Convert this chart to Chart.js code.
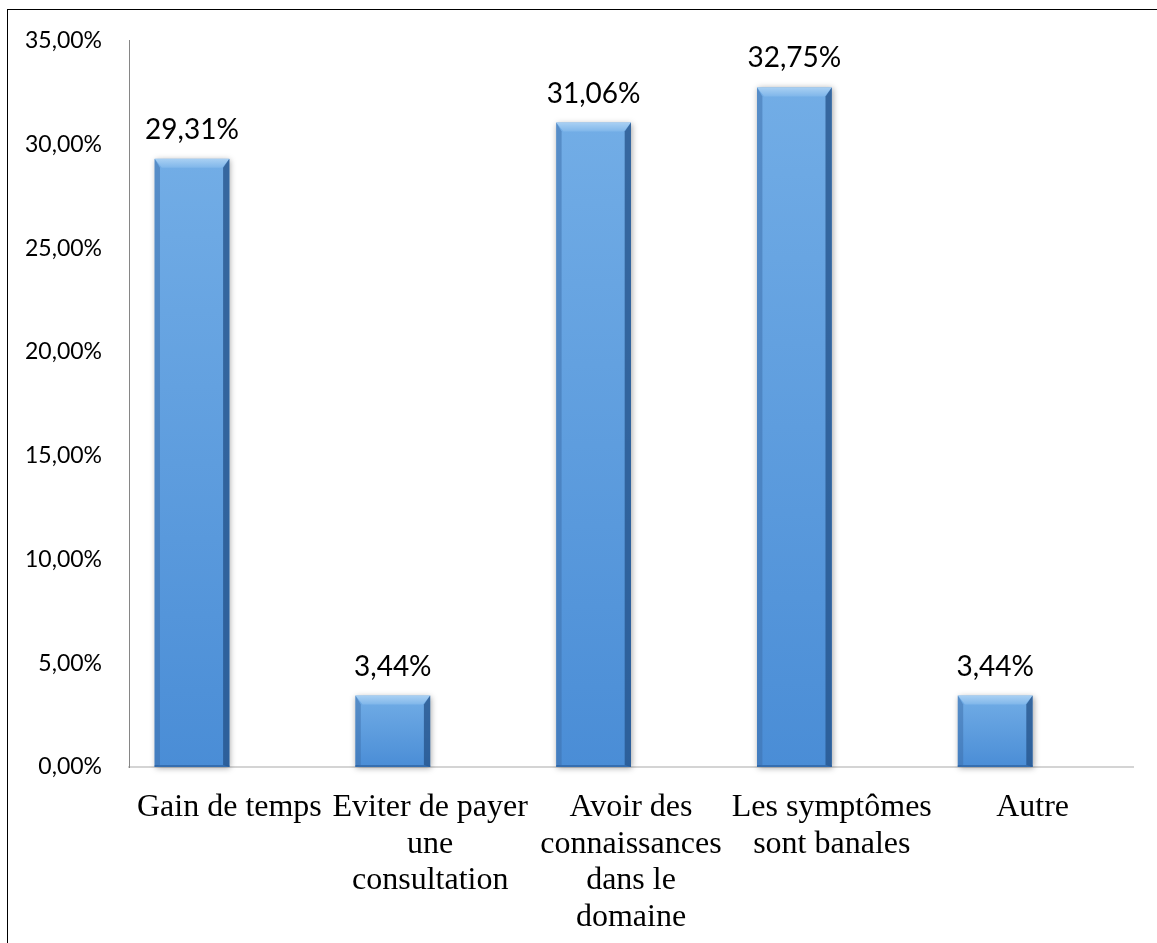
<!DOCTYPE html>
<html>
<head>
<meta charset="utf-8">
<script src="https://cdn.jsdelivr.net/npm/chart.js@4.4.1/dist/chart.umd.min.js"></script>
<style>
    html, body { margin: 0; padding: 0; background: #fff; overflow: hidden; }
    #frame {
        position: absolute; left: 7px; top: 9px;
        width: 1300px; height: 1100px;
        border-top: 1.5px solid #000; border-left: 1.5px solid #000;
    }
    #wrap { position: absolute; left: 0; top: 0; width: 1157px; height: 943px; }
</style>
</head>
<body>
<div id="frame"></div>
<div id="wrap"><canvas id="motifChart"></canvas></div>
<script>
// Motifs de l'automédication
const categories = [
    'Gain de temps',
    ['Eviter de payer', 'une', 'consultation'],
    ['Avoir des', 'connaissances', 'dans le', 'domaine'],
    ['Les symptômes', 'sont banales'],
    'Autre'
];
const percentages = [29.31, 3.44, 31.06, 32.75, 3.44];
// empty series that keeps the bars on the left half of each category
const spacer = [null, null, null, null, null];
const yTicks = [0, 5, 10, 15, 20, 25, 30, 35];

function frPercent(v) {
    return v.toFixed(2).replace('.', ',') + '%';
}

// bevelled blue bars, drawn over the default rectangles
const bevelBars = {
    id: 'bevelBars',
    afterDatasetsDraw(chart) {
        const ctx = chart.ctx;
        chart.getDatasetMeta(0).data.forEach(bar => {
            const left = bar.x - bar.width / 2;
            const right = bar.x + bar.width / 2;
            const top = bar.y;
            const bottom = bar.base;
            const w = right - left;
            const h = bottom - top;
            const b = Math.min(9, h / 3);

            ctx.save();
            // soft shadow
            ctx.shadowColor = 'rgba(0,0,0,0.35)';
            ctx.shadowBlur = 6;
            ctx.shadowOffsetX = 1;
            ctx.shadowOffsetY = 1;
            const body = ctx.createLinearGradient(0, top, 0, bottom);
            body.addColorStop(0, '#72ade6');
            body.addColorStop(1, '#4a8dd6');
            ctx.fillStyle = body;
            ctx.fillRect(left, top, w, h);
            ctx.restore();

            ctx.save();
            // top bevel
            const cap = ctx.createLinearGradient(0, top, 0, top + b);
            cap.addColorStop(0, '#a9d0f3');
            cap.addColorStop(1, '#7fb6ea');
            ctx.fillStyle = cap;
            ctx.beginPath();
            ctx.moveTo(left, top);
            ctx.lineTo(right, top);
            ctx.lineTo(right - b * 0.8, top + b);
            ctx.lineTo(left + b * 0.8, top + b);
            ctx.closePath();
            ctx.fill();
            // left bevel
            ctx.fillStyle = 'rgba(60,110,170,0.5)';
            ctx.beginPath();
            ctx.moveTo(left, top);
            ctx.lineTo(left + b * 0.6, top + b);
            ctx.lineTo(left + b * 0.6, bottom - 2);
            ctx.lineTo(left, bottom);
            ctx.closePath();
            ctx.fill();
            // right bevel
            ctx.fillStyle = 'rgba(35,80,135,0.75)';
            ctx.beginPath();
            ctx.moveTo(right, top);
            ctx.lineTo(right - b * 0.7, top + b);
            ctx.lineTo(right - b * 0.7, bottom - 2);
            ctx.lineTo(right, bottom);
            ctx.closePath();
            ctx.fill();
            // bottom edge
            ctx.fillStyle = 'rgba(40,90,150,0.6)';
            ctx.fillRect(left, bottom - 2, w, 2);
            ctx.restore();
        });
    }
};

// value labels above each bar
const valueLabels = {
    id: 'valueLabels',
    afterDatasetsDraw(chart) {
        const ctx = chart.ctx;
        const values = chart.data.datasets[0].data;
        ctx.save();
        ctx.font = '28px Lato';
        ctx.fillStyle = '#000';
        ctx.textAlign = 'center';
        ctx.textBaseline = 'alphabetic';
        chart.getDatasetMeta(0).data.forEach((bar, i) => {
            ctx.fillText(frPercent(values[i]), bar.x, bar.y - 20);
        });
        ctx.restore();
    }
};

function initMotifChart() {
    const ctx = document.getElementById('motifChart');
    if (!ctx) return;

    new Chart(ctx, {
        type: 'bar',
        data: {
            labels: categories,
            datasets: [{
                data: percentages,
                backgroundColor: 'rgba(0,0,0,0)',
                borderWidth: 0
            }, {
                data: spacer,
                backgroundColor: 'rgba(0,0,0,0)',
                borderWidth: 0
            }]
        },
        options: {
            responsive: true,
            maintainAspectRatio: false,
            animation: false,
            datasets: {
                bar: { categoryPercentage: 0.745, barPercentage: 1.0 }
            },
            layout: {
                padding: { top: 40, right: 24, left: 0, bottom: 0 }
            },
            plugins: {
                legend: { display: false },
                tooltip: { enabled: false }
            },
            scales: {
                x: {
                    grid: { display: false, drawTicks: false },
                    border: { display: true, color: '#d4d4d4', width: 2 },
                    ticks: {
                        color: '#000',
                        font: { family: 'Liberation Serif', size: 32, lineHeight: 1.15 },
                        padding: 22,
                        maxRotation: 0,
                        autoSkip: false
                    },
                    afterFit(scale) { scale.height = 176; }
                },
                y: {
                    min: 0,
                    max: 35,
                    grid: { display: false, drawTicks: false },
                    border: { display: true, color: '#868686', width: 1 },
                    afterBuildTicks(scale) {
                        scale.ticks = yTicks.map(v => ({ value: v }));
                    },
                    ticks: {
                        color: '#000',
                        font: { family: 'Lato', size: 23 },
                        padding: 27,
                        callback: v => frPercent(v)
                    },
                    afterFit(scale) { scale.width = 129; }
                }
            }
        },
        plugins: [bevelBars, valueLabels]
    });
}

initMotifChart();
</script>
</body>
</html>
